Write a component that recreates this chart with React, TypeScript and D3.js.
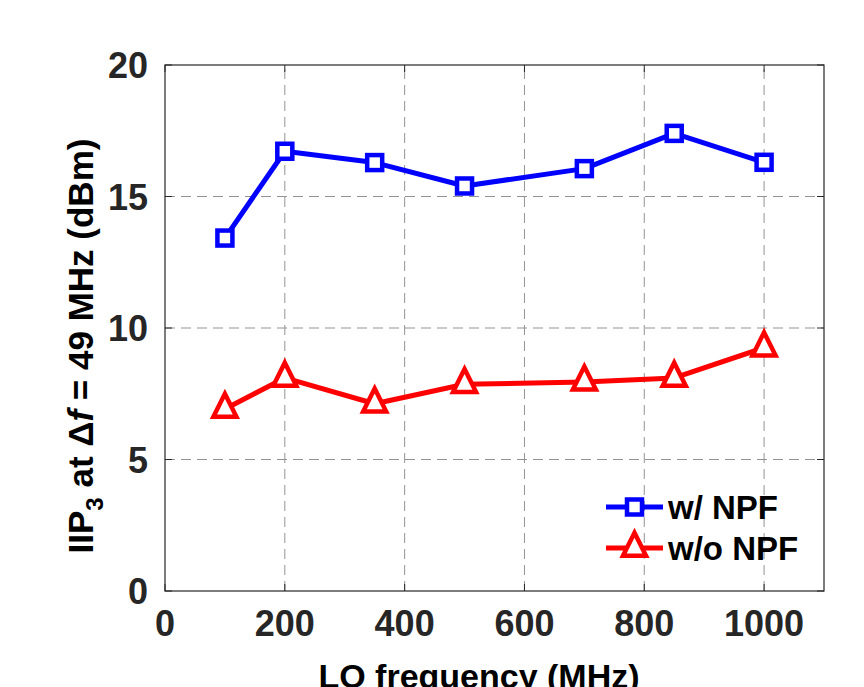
import { useEffect, useRef } from 'react';
import { select, scaleLinear, line } from 'd3';

// LO frequency (MHz)
const loFreq = [100, 200, 350, 500, 700, 850, 1000];
// IIP3 (dBm)
const withNpf = [13.42, 16.72, 16.29, 15.4, 16.06, 17.4, 16.3];
const withoutNpf = [6.92, 8.1, 7.12, 7.86, 7.95, 8.1, 9.25];
const xTicks = [0, 200, 400, 600, 800, 1000];
const yTicks = [0, 5, 10, 15, 20];
const legendLabels = ['w/ NPF', 'w/o NPF'];

const W = 864;
const H = 687;
const margins = { top: 65, right: 40, bottom: 96, left: 165 };
const FONT = 'Liberation Sans, Arial, sans-serif';
const AX = '#262626';

const triPath = (s: number) => {
  // isosceles triangle, centroid at origin
  const h = s;
  return `M0,${-h * 2 / 3}L${s / 2},${h / 3}L${-s / 2},${h / 3}Z`;
};

const render = (el: SVGSVGElement) => {
  const svg = select(el).attr('width', W).attr('height', H);
  svg.selectAll('*').remove();

  const x0 = margins.left;
  const x1 = W - margins.right;
  const y0 = H - margins.bottom;
  const y1 = margins.top;

  const xScale = scaleLinear().domain([0, 1100]).range([x0, x1]);
  const yScale = scaleLinear().domain([0, 20]).range([y0, y1]);

  const g = svg.append('g');

  // grid
  xTicks.forEach((t) => {
    if (t === 0) return;
    g.append('line')
      .attr('x1', xScale(t)).attr('x2', xScale(t))
      .attr('y1', y0).attr('y2', y1)
      .attr('stroke', '#939393').attr('stroke-width', 1)
      .attr('stroke-dasharray', '10,6');
  });
  yTicks.forEach((t) => {
    if (t === 0 || t === 20) return;
    g.append('line')
      .attr('x1', x0).attr('x2', x1)
      .attr('y1', yScale(t)).attr('y2', yScale(t))
      .attr('stroke', '#939393').attr('stroke-width', 1)
      .attr('stroke-dasharray', '10,6');
  });

  // box
  g.append('rect')
    .attr('x', x0).attr('y', y1)
    .attr('width', x1 - x0).attr('height', y0 - y1)
    .attr('fill', 'none').attr('stroke', AX).attr('stroke-width', 1.2);

  // ticks (inward, all sides)
  const tl = 7;
  xTicks.forEach((t) => {
    const x = xScale(t);
    g.append('line').attr('x1', x).attr('x2', x).attr('y1', y0).attr('y2', y0 - tl).attr('stroke', AX);
    g.append('line').attr('x1', x).attr('x2', x).attr('y1', y1).attr('y2', y1 + tl).attr('stroke', AX);
    g.append('text')
      .attr('x', x).attr('y', y0 + 45)
      .attr('text-anchor', 'middle')
      .attr('font-family', FONT).attr('font-weight', 'bold').attr('font-size', 36)
      .attr('fill', AX)
      .text(t);
  });
  yTicks.forEach((t) => {
    const y = yScale(t);
    g.append('line').attr('x1', x0).attr('x2', x0 + tl).attr('y1', y).attr('y2', y).attr('stroke', AX);
    g.append('line').attr('x1', x1).attr('x2', x1 - tl).attr('y1', y).attr('y2', y).attr('stroke', AX);
    g.append('text')
      .attr('x', x0 - 17).attr('y', y + 13)
      .attr('text-anchor', 'end')
      .attr('font-family', FONT).attr('font-weight', 'bold').attr('font-size', 36)
      .attr('fill', AX)
      .text(t);
  });

  // axis labels
  g.append('text')
    .attr('x', 479).attr('y', 688)
    .attr('text-anchor', 'middle')
    .attr('font-family', FONT).attr('font-weight', 'bold').attr('font-size', 34)
    .attr('fill', '#000')
    .text('LO frequency (MHz)');

  const yl = g.append('text')
    .attr('transform', 'translate(93,346) rotate(-90)')
    .attr('text-anchor', 'middle')
    .attr('font-family', FONT).attr('font-weight', 'bold').attr('font-size', 35)
    .attr('fill', '#000');
  yl.append('tspan').text('IIP');
  yl.append('tspan').attr('font-size', 24).attr('dy', 10).text('3');
  yl.append('tspan').attr('dy', -10).text(' at Δ');
  yl.append('tspan').attr('font-style', 'italic').text('f');
  yl.append('tspan').text(' = 49 MHz (dBm)');

  const lineGen = line<number>()
    .x((_, i) => xScale(loFreq[i]))
    .y((d) => yScale(d));

  // w/o NPF (red, triangles)
  g.append('path')
    .attr('d', lineGen(withoutNpf))
    .attr('fill', 'none').attr('stroke', '#ff0000').attr('stroke-width', 5)
    .attr('stroke-linejoin', 'round');
  g.selectAll('.tri')
    .data(withoutNpf)
    .enter()
    .append('path')
    .attr('class', 'tri')
    .attr('d', triPath(23))
    .attr('transform', (d, i) => `translate(${xScale(loFreq[i])},${yScale(d)})`)
    .attr('fill', '#fff').attr('stroke', '#ff0000').attr('stroke-width', 4.5);

  // w/ NPF (blue, squares)
  g.append('path')
    .attr('d', lineGen(withNpf))
    .attr('fill', 'none').attr('stroke', '#0000ff').attr('stroke-width', 5)
    .attr('stroke-linejoin', 'round');
  const sq = 15;
  g.selectAll('.sq')
    .data(withNpf)
    .enter()
    .append('rect')
    .attr('class', 'sq')
    .attr('x', (d, i) => xScale(loFreq[i]) - sq / 2)
    .attr('y', (d) => yScale(d) - sq / 2)
    .attr('width', sq).attr('height', sq)
    .attr('fill', '#fff').attr('stroke', '#0000ff').attr('stroke-width', 4.5);

  // legend
  const lx0 = 606;
  const lx1 = 663;
  const lxm = (lx0 + lx1) / 2;
  const rows = [
    { y: 507, color: '#0000ff', label: legendLabels[0], marker: 'sq' },
    { y: 548, color: '#ff0000', label: legendLabels[1], marker: 'tri' },
  ];
  rows.forEach((r) => {
    g.append('line')
      .attr('x1', lx0).attr('x2', lx1).attr('y1', r.y).attr('y2', r.y)
      .attr('stroke', r.color).attr('stroke-width', 5);
    if (r.marker === 'sq') {
      g.append('rect')
        .attr('x', lxm - sq / 2).attr('y', r.y - sq / 2)
        .attr('width', sq).attr('height', sq)
        .attr('fill', '#fff').attr('stroke', r.color).attr('stroke-width', 4.5);
    } else {
      g.append('path')
        .attr('d', triPath(23))
        .attr('transform', `translate(${lxm},${r.y})`)
        .attr('fill', '#fff').attr('stroke', r.color).attr('stroke-width', 4.5);
    }
    g.append('text')
      .attr('x', 668).attr('y', r.y + 12)
      .attr('font-family', FONT).attr('font-weight', 'bold').attr('font-size', 33)
      .attr('fill', '#000')
      .text(r.label);
  });
};

export default function App() {
  const chartRef = useRef<SVGSVGElement>(null);

  useEffect(() => {
    if (chartRef.current) render(chartRef.current);
  }, []);

  return (
    <div style={{ position: 'absolute', left: 0, top: 0, width: W, height: H, background: '#fff' }}>
      <svg ref={chartRef} style={{ display: 'block' }}></svg>
    </div>
  );
}
